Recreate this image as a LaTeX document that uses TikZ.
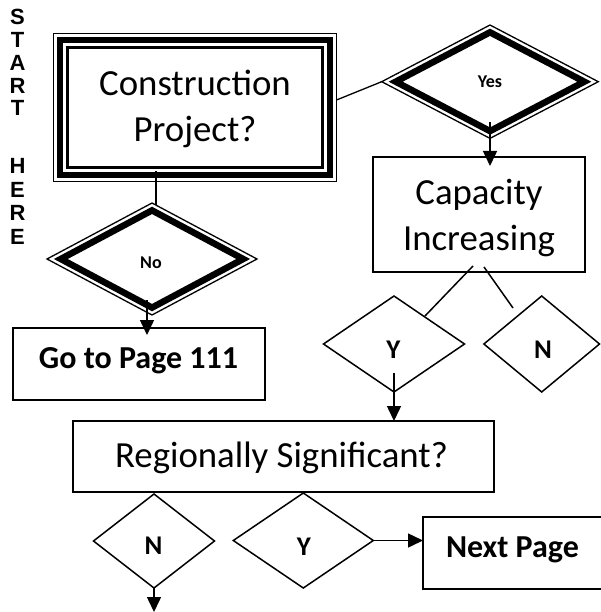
\documentclass[tikz,border=0pt]{standalone}
\usepackage{fontspec}
\setmainfont{Carlito}
\newfontfamily\startfont{Liberation Sans}
\usetikzlibrary{shapes.geometric,arrows.meta,calc}

\tikzset{
  every node/.style={inner sep=0pt, outer sep=0pt},
  thin/.style={line width=1.5pt},
  boxed/.style={draw, thin, rectangle},
  dec/.style={draw, thin, diamond},
  arr/.style={thin, -{Triangle[length=15pt,width=14pt]}},
  big/.style={font=\fontsize{36.8}{46}\selectfont, align=center},
  bigbold/.style={font=\bfseries\fontsize{32}{36}\selectfont},
  yn/.style={font=\bfseries\fontsize{27}{30}\selectfont},
  small/.style={font=\bfseries\fontsize{18}{20}\selectfont},
  vert/.style={font=\startfont\bfseries\fontsize{22}{24}\selectfont},
}

\begin{document}
\begin{tikzpicture}[x=1pt, y=-1pt]
\useasboundingbox (0,0) rectangle (600,612);

% vertical start label
\foreach \l/\yy in {S/17, T/40, A/63, R/86, T/108, H/166, E/189.5, R/213, E/237}
  \node[vert] (start\yy) at (17.5,\yy) {\l};

% first question, framed by three nested rectangles
\node[boxed, line width=1.4pt, minimum width=283pt, minimum height=148pt] (cp) at (195,107.5) {};
\draw[line width=6pt] ($(cp.north west)+(6.3,6.3)$) rectangle ($(cp.south east)+(-6.3,-6.3)$);
\draw[line width=2.5pt] ($(cp.north west)+(14,14)$) rectangle ($(cp.south east)+(-14,-14)$);
\node[big] (cptext) at (195,109) {Construction\\Project?};

% yes / no decisions with heavy inner outline
\node[draw, diamond, line width=1.3pt, minimum width=216.6pt, minimum height=113.4pt, small] (yes) at (490,81.7) {Yes};
\node[draw, diamond, line width=6.5pt, minimum width=188.6pt, minimum height=98.8pt] (yesin) at (490,81.7) {};
\node[draw, diamond, line width=1.3pt, minimum width=210pt, minimum height=112pt] (no) at (152,259) {};
\node[draw, diamond, line width=6.5pt, minimum width=182.4pt, minimum height=97.2pt] (noin) at (152,259) {};
\node[small] (notext) at (151,262.5) {No};

% boxes
\node[boxed, minimum width=212pt, minimum height=115pt] (cap) at (479,214.5) {};
\node[big] (captext) at (479,218) {Capacity\\Increasing};
\node[boxed, minimum width=252pt, minimum height=72pt] (go) at (139,364) {};
\node[bigbold, anchor=base] (gotext) at (138.5,368) {Go to Page 111};
\node[boxed, minimum width=421pt, minimum height=71pt] (reg) at (283.5,456.5) {};
\node[big, anchor=base] (regtext) at (281.5,467) {Regionally Significant?};
\node[boxed, minimum width=190pt, minimum height=72pt] (np) at (518,553) {};
\node[bigbold, anchor=base west] (nptext) at (446,557) {Next Page};

% small decisions
\node[dec, minimum width=141pt, minimum height=96pt] (yu) at (394,344) {};
\node[yn] (yutext) at (393.5,350) {Y};
\node[dec, minimum width=115.6pt, minimum height=96pt] (nu) at (541.7,344) {};
\node[yn] (nutext) at (543,350) {N};
\node[dec, minimum width=121pt, minimum height=94pt] (nl) at (154,541) {};
\node[yn] (nltext) at (153.5,546) {N};
\node[dec, minimum width=140pt, minimum height=95pt] (yl) at (303.3,540.5) {};
\node[yn] (yltext) at (304,547) {Y};

% connectors
\draw[thin, line width=1.3pt] ($(cp.east)+(0,-7.5)$) -- (yes.west);
\draw[thin] ($(cp.south)+(-39,-10)$) -- ($(no.north)+(4,2)$);
\draw[arr] ($(no.south)+(-5,-15)$) -- ($(no.south |- go.north)+(-5,7)$);
\draw[arr] ($(yes.south)+(0,-16)$) -- ($(yes.south |- cap.north)+(0,9)$);
\draw[thin] ($(cap.south)+(-6,-6)$) -- ($(yu.north)+(31,20)$);
\coordinate (nuend) at ($(nu.north)+(-28.7,12)$);
\draw[thin] ($(cap.south)+(5,-5)$) -- (nuend);
\draw[arr] ($(yu.south)+(0,-19)$) -- (yu.south |- reg.north);
\coordinate (nlout) at ($(nl.south)+(0,24)$);
\draw[arr] (nl.south) -- (nlout);
\draw[arr] (yl.east) -- (yl.east -| np.west);
\end{tikzpicture}
\end{document}
